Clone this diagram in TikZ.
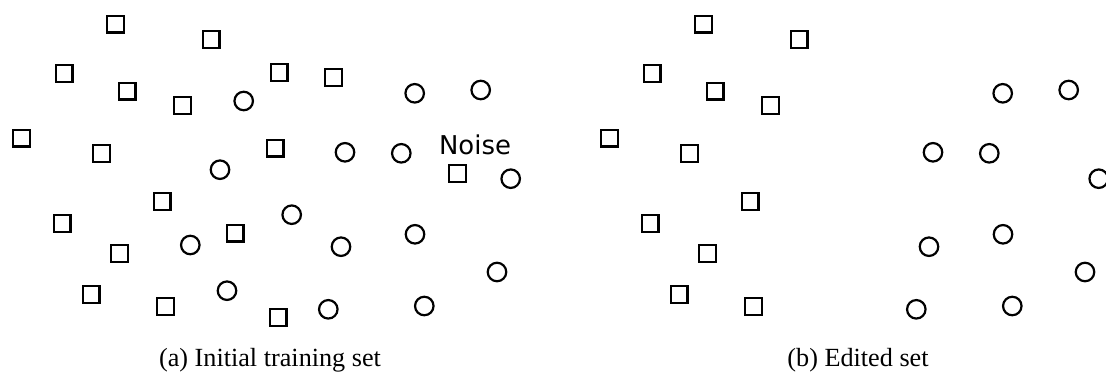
\documentclass[tikz,border=0pt]{standalone}
\usepackage{fontspec}
\setmainfont{Liberation Serif}
\newfontfamily\noisefont{DejaVu Sans}
\begin{document}
\begin{tikzpicture}[x=1bp,y=-1bp,
  sq/.style={draw,rectangle,minimum size=16.8bp,inner sep=0pt,line width=2.2bp},
  ci/.style={draw,circle,minimum size=18.5bp,inner sep=0pt,line width=2.2bp},
  captext/.style={anchor=base,inner sep=0pt,font=\fontsize{26.3}{30}\selectfont},
  noiselbl/.style={anchor=base,inner sep=0pt,font=\noisefont\fontsize{26}{30}\selectfont}]
\useasboundingbox (0,0) rectangle (1106,372);
\clip (0,0) rectangle (1106,372);
% ---------- panel (a) ----------
\node[sq] (as1) at (115.7,24) {};
\node[sq] (as2) at (211,39.7) {};
\node[sq] (as3) at (64,73.7) {};
\node[sq] (as4) at (127,91) {};
\node[sq] (as5) at (182.7,105.7) {};
\node[sq] (as6) at (279,72.7) {};
\node[sq] (as7) at (333.7,77.7) {};
\node[sq] (as8) at (21.7,138) {};
\node[sq] (as9) at (101.3,153.3) {};
\node[sq] (as10) at (275,148) {};
\node[sq] (as11) at (457.3,173.7) {};
\node[sq] (as12) at (162,201.3) {};
\node[sq] (as13) at (62,223.7) {};
\node[sq] (as14) at (119.3,253.3) {};
\node[sq] (as15) at (235,233) {};
\node[sq] (as16) at (91,294.7) {};
\node[sq] (as17) at (165.3,306.7) {};
\node[sq] (as18) at (278,317.7) {};
\node[ci] (ac1) at (243.7,101) {};
\node[ci] (ac2) at (220,169.7) {};
\node[ci] (ac3) at (414.7,93.3) {};
\node[ci] (ac4) at (480.7,90) {};
\node[ci] (ac5) at (345,152.3) {};
\node[ci] (ac6) at (401.3,153.3) {};
\node[ci] (ac7) at (510.7,178.7) {};
\node[ci] (ac8) at (291.7,214.7) {};
\node[ci] (ac9) at (190.3,245) {};
\node[ci] (ac10) at (341,246.7) {};
\node[ci] (ac11) at (415,234.3) {};
\node[ci] (ac12) at (497,272) {};
\node[ci] (ac13) at (227,290.7) {};
\node[ci] (ac14) at (328.3,309.3) {};
\node[ci] (ac15) at (424.3,306) {};
\node[noiselbl] (noise) at (475,154.5) {Noise};
\node[captext] (capa) at (270,366.5) {(a) Initial training set};
% ---------- panel (b) ----------
\begin{scope}[xshift=588bp]
\node[sq] (bs1) at (115.7,24) {};
\node[sq] (bs2) at (211,39.7) {};
\node[sq] (bs3) at (64,73.7) {};
\node[sq] (bs4) at (127,91) {};
\node[sq] (bs5) at (182.7,105.7) {};
\node[sq] (bs8) at (21.7,138) {};
\node[sq] (bs9) at (101.3,153.3) {};
\node[sq] (bs12) at (162,201.3) {};
\node[sq] (bs13) at (62,223.7) {};
\node[sq] (bs14) at (119.3,253.3) {};
\node[sq] (bs16) at (91,294.7) {};
\node[sq] (bs17) at (165.3,306.7) {};
\node[ci] (bc3) at (414.7,93.3) {};
\node[ci] (bc4) at (480.7,90) {};
\node[ci] (bc5) at (345,152.3) {};
\node[ci] (bc6) at (401.3,153.3) {};
\node[ci] (bc7) at (510.7,178.7) {};
\node[ci] (bc10) at (341,246.7) {};
\node[ci] (bc11) at (415,234.3) {};
\node[ci] (bc12) at (497,272) {};
\node[ci] (bc14) at (328.3,309.3) {};
\node[ci] (bc15) at (424.3,306) {};
\node[captext] (capb) at (270,366.5) {(b) Edited set};
\end{scope}
\end{tikzpicture}
\end{document}
